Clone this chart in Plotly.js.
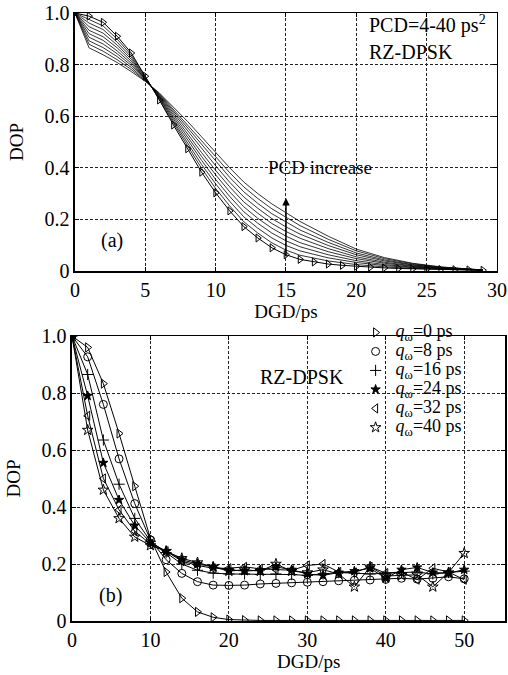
<!DOCTYPE html>
<html><head><meta charset="utf-8">
<script src="https://cdn.plot.ly/plotly-3.0.1.min.js"></script>
<style>html,body{margin:0;padding:0;background:#fff}</style>
</head><body><div id="chart" style="width:508px;height:675px"></div>
<script>
// ---------- Panel (a): DOP vs DGD, PCD = 4..40 ps^2 ----------
const dgdA = [0,1,2,3,4,5,6,7,8,9,10,11,12,13,14,15,16,17,18,19,20,21,22,23,24,25,26,27,28,29];
const pcd4 = [1.0,0.988,0.964,0.91,0.845,0.755,0.663,0.566,0.474,0.383,0.303,0.233,0.172,0.128,0.09,0.063,0.045,0.035,0.027,0.022,0.018,0.015,0.012,0.01,0.008,0.007,0.006,0.005,0.004,0.003];
const dgdLines = [0,1,2,3,4,5,6,7,8,9,10,11,12,13,14,15,16,18,20,22,24,26,29];
const pcd8  = [1,0.974,0.950,0.899,0.837,0.753,0.666,0.574,0.486,0.398,0.320,0.252,0.191,0.147,0.109,0.081,0.061,0.039,0.025,0.016,0.010,0.007,0.003];
const pcd12 = [1,0.961,0.936,0.887,0.829,0.751,0.669,0.581,0.498,0.413,0.338,0.270,0.210,0.166,0.128,0.099,0.078,0.051,0.033,0.021,0.013,0.008,0.003];
const pcd16 = [1,0.947,0.922,0.876,0.821,0.748,0.672,0.589,0.509,0.429,0.355,0.289,0.230,0.185,0.147,0.117,0.094,0.063,0.040,0.025,0.015,0.009,0.003];
const pcd20 = [1,0.933,0.908,0.865,0.813,0.746,0.675,0.597,0.521,0.444,0.373,0.307,0.249,0.204,0.166,0.135,0.110,0.075,0.048,0.030,0.018,0.010,0.004];
const pcd24 = [1,0.920,0.894,0.853,0.805,0.744,0.678,0.604,0.533,0.459,0.390,0.326,0.268,0.224,0.184,0.153,0.127,0.087,0.055,0.034,0.020,0.011,0.004];
const pcd28 = [1,0.906,0.880,0.842,0.797,0.742,0.681,0.612,0.545,0.474,0.408,0.344,0.287,0.243,0.203,0.171,0.143,0.099,0.063,0.039,0.023,0.012,0.004];
const pcd32 = [1,0.892,0.866,0.831,0.789,0.739,0.684,0.620,0.556,0.490,0.425,0.363,0.307,0.262,0.222,0.189,0.159,0.111,0.070,0.043,0.025,0.013,0.004];
const pcd36 = [1,0.879,0.852,0.819,0.781,0.737,0.687,0.627,0.568,0.505,0.443,0.381,0.326,0.281,0.241,0.207,0.176,0.123,0.078,0.048,0.028,0.015,0.004];
const pcd40 = [1,0.865,0.838,0.808,0.773,0.735,0.690,0.635,0.580,0.520,0.460,0.400,0.345,0.300,0.260,0.225,0.192,0.135,0.085,0.052,0.030,0.016,0.004];
const pcdOthers = [pcd8,pcd12,pcd16,pcd20,pcd24,pcd28,pcd32,pcd36,pcd40];
const pcdNames = ['PCD=8 ps²','PCD=12 ps²','PCD=16 ps²','PCD=20 ps²','PCD=24 ps²','PCD=28 ps²','PCD=32 ps²','PCD=36 ps²','PCD=40 ps²'];

// ---------- Panel (b): DOP vs DGD, q_omega = 0..40 ps ----------
const dgdB = [0,2,4,6,8,10,12,14,16,18,20,22,24,26,28,30,32,34,36,38,40,42,44,46,48,50];
const q0  = [1.0,0.96,0.833,0.658,0.473,0.29,0.172,0.08,0.032,0.013,0.005,0.003,0.002,0.002,0.002,0.002,0.002,0.002,0.002,0.002,0.002,0.002,0.002,0.002,0.002,0.002];
const q8  = [1.0,0.927,0.76,0.569,0.412,0.285,0.215,0.167,0.138,0.126,0.125,0.126,0.13,0.132,0.134,0.136,0.138,0.141,0.143,0.144,0.146,0.15,0.147,0.15,0.155,0.148];
const q16 = [1.0,0.865,0.635,0.48,0.36,0.28,0.24,0.2,0.178,0.168,0.165,0.165,0.163,0.165,0.163,0.16,0.165,0.17,0.168,0.165,0.168,0.17,0.172,0.165,0.17,0.175];
const q24 = [1.0,0.79,0.555,0.425,0.335,0.275,0.245,0.215,0.2,0.19,0.18,0.175,0.178,0.19,0.18,0.165,0.16,0.17,0.175,0.185,0.15,0.18,0.188,0.17,0.168,0.18];
const q32 = [1.0,0.72,0.5,0.39,0.315,0.27,0.245,0.21,0.195,0.185,0.185,0.19,0.183,0.18,0.178,0.195,0.2,0.172,0.17,0.19,0.168,0.172,0.145,0.185,0.172,0.145];
const q40 = [1.0,0.67,0.46,0.36,0.295,0.265,0.245,0.22,0.205,0.19,0.175,0.18,0.175,0.2,0.175,0.17,0.18,0.165,0.12,0.19,0.158,0.16,0.162,0.12,0.17,0.238];
const qSeries = [q0,q8,q16,q24,q32,q40];
const qLabels = ['0','8','16','24','32','40'];
const qSymbols = ['triangle-right-open','circle-open','cross-thin-open','star','triangle-left-open','star-open'];

const yTickVals = [0,0.2,0.4,0.6,0.8,1.0];
const yTickText = ['0','0.2','0.4','0.6','0.8','1.0'];

const FONT = 'Liberation Serif, Times New Roman, serif';
const INK = '#000';

const traces = [];
pcdOthers.forEach((ys,i)=>{
  traces.push({x:dgdLines, y:ys, xaxis:'x', yaxis:'y', mode:'lines', name:pcdNames[i],
    line:{color:INK, width:0.8}, showlegend:false, hoverinfo:'skip'});
});
traces.push({x:dgdA, y:pcd4, xaxis:'x', yaxis:'y', mode:'lines+markers', name:'PCD=4 ps²',
  line:{color:INK, width:1}, marker:{symbol:'triangle-right-open', size:7, color:INK, line:{color:INK,width:1}},
  showlegend:false});

qSeries.forEach((ys,i)=>{
  traces.push({x:dgdB, y:ys, xaxis:'x2', yaxis:'y2', mode:'lines', line:{color:INK,width:1},
    showlegend:false, legendgroup:'q'+i, hoverinfo:'skip'});
});
qSeries.forEach((ys,i)=>{
  traces.push({x:dgdB, y:ys, xaxis:'x2', yaxis:'y2', mode:'markers', legendgroup:'q'+i,
    name:'<span style="font-size:18px"><i>q</i><sub>ω</sub>='+qLabels[i]+' ps</span>',
    marker:{symbol:qSymbols[i], size:qSymbols[i]==='star'?7:8, color:INK, line:{color:INK,width:1}}});
});

const axCommon = {
  showline:true, linecolor:INK, linewidth:1.5, mirror:'ticks',
  ticks:'inside', ticklen:4, tickcolor:INK, tickwidth:1,
  showgrid:true, gridcolor:'#222', gridwidth:1, griddash:'3px,2px',
  zeroline:false, tickfont:{family:FONT, size:20, color:INK}
};

const layout = {
  width:508, height:675,
  margin:{l:0,r:0,t:0,b:0},
  paper_bgcolor:'#fff', plot_bgcolor:'#fff',
  font:{family:FONT, color:INK},
  showlegend:true,
  legend:{x:0.700, y:0.529, xanchor:'left', yanchor:'top', bgcolor:'rgba(0,0,0,0)',
    font:{family:FONT, size:11, color:INK}, tracegroupgap:0, itemwidth:30},
  xaxis:Object.assign({}, axCommon, {domain:[0.1476,0.9783], anchor:'y', range:[0,30],
    tickvals:[0,5,10,15,20,25,30], title:{text:'DGD/ps', font:{family:FONT,size:19,color:INK}, standoff:2}}),
  yaxis:Object.assign({}, axCommon, {domain:[0.5985,0.9807], anchor:'x', range:[0,1],
    tickvals:yTickVals, ticktext:yTickText, title:{text:'DOP', font:{family:FONT,size:19,color:INK}, standoff:16}}),
  xaxis2:Object.assign({}, axCommon, {domain:[0.1417,0.9941], anchor:'y2', range:[0,55.2],
    tickvals:[0,10,20,30,40,50]}),
  yaxis2:Object.assign({}, axCommon, {domain:[0.08,0.5022], anchor:'x2', range:[0,1],
    tickvals:yTickVals, ticktext:yTickText, title:{text:'DOP', font:{family:FONT,size:19,color:INK}, standoff:16}}),
  annotations:[
    {xref:'paper', yref:'paper', x:308/508, y:1-661/675, xanchor:'center', yanchor:'middle', showarrow:false,
      text:'DGD/ps', font:{family:FONT,size:19,color:INK}},
    {xref:'paper', yref:'paper', x:0.7224, y:0.963, xanchor:'left', yanchor:'middle', showarrow:false,
      text:'PCD=4-40 ps<sup>2</sup>', font:{family:FONT,size:20,color:INK}},
    {xref:'paper', yref:'paper', x:0.7224, y:0.923, xanchor:'left', yanchor:'middle', showarrow:false,
      text:'RZ-DPSK', font:{family:FONT,size:20,color:INK}},
    {xref:'x', yref:'y', x:17.4, y:0.40, xanchor:'center', yanchor:'middle', showarrow:false,
      text:'PCD increase', font:{family:FONT,size:19,color:INK}},
    {xref:'x', yref:'y', x:15, y:0.283, axref:'x', ayref:'y', ax:15, ay:0.05, text:'',
      showarrow:true, arrowhead:2, arrowsize:1, arrowwidth:1.5, arrowcolor:INK},
    {xref:'x', yref:'y', x:2.63, y:0.12, showarrow:false, text:'(a)', font:{family:FONT,size:20,color:INK}},
    {xref:'x2', yref:'y2', x:4.97, y:0.091, showarrow:false, text:'(b)', font:{family:FONT,size:20,color:INK}},
    {xref:'x2', yref:'y2', x:29.3, y:0.856, showarrow:false, text:'RZ-DPSK', font:{family:FONT,size:20,color:INK}}
  ]
};

Plotly.newPlot('chart', traces, layout, {displayModeBar:false, staticPlot:true});
</script>
</body></html>
